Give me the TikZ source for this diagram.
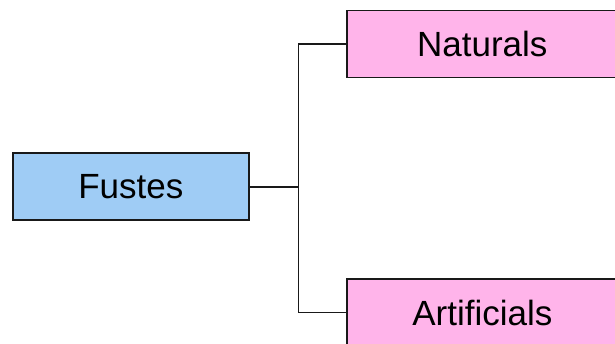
\documentclass[tikz,border=0pt]{standalone}
\usepackage{fontspec}
\setmainfont{Liberation Sans}
\definecolor{rootblue}{RGB}{159,204,245}
\definecolor{leafpink}{RGB}{255,180,234}
\tikzset{
  box/.style={draw=black!90, line width=1.6pt, minimum height=67pt, inner sep=0pt,
    font=\fontsize{35}{38}\selectfont},
  rootbox/.style={box, fill=rootblue, minimum width=236pt},
  leafbox/.style={box, fill=leafpink, minimum width=271pt},
  link/.style={draw=black!90, line width=1.6pt}
}
\begin{document}
\begin{tikzpicture}[x=1pt,y=-1pt]
  \useasboundingbox (0,0) rectangle (615,344);
  \clip (0,0) rectangle (615,344);
  \node[rootbox] (fustes) at (130.8,186.8) {Fustes};
  \node[leafbox] (nat) at (482.3,44.2) {Naturals};
  \node[leafbox] (art) at (482.3,312.5) {Artificials};
  \coordinate (fork) at (298.5,186.8);
  \draw[link] (fustes.east) -- (fork);
  \draw[link] (fork) |- (nat.west);
  \draw[link] (fork) |- (art.west);
\end{tikzpicture}
\end{document}
